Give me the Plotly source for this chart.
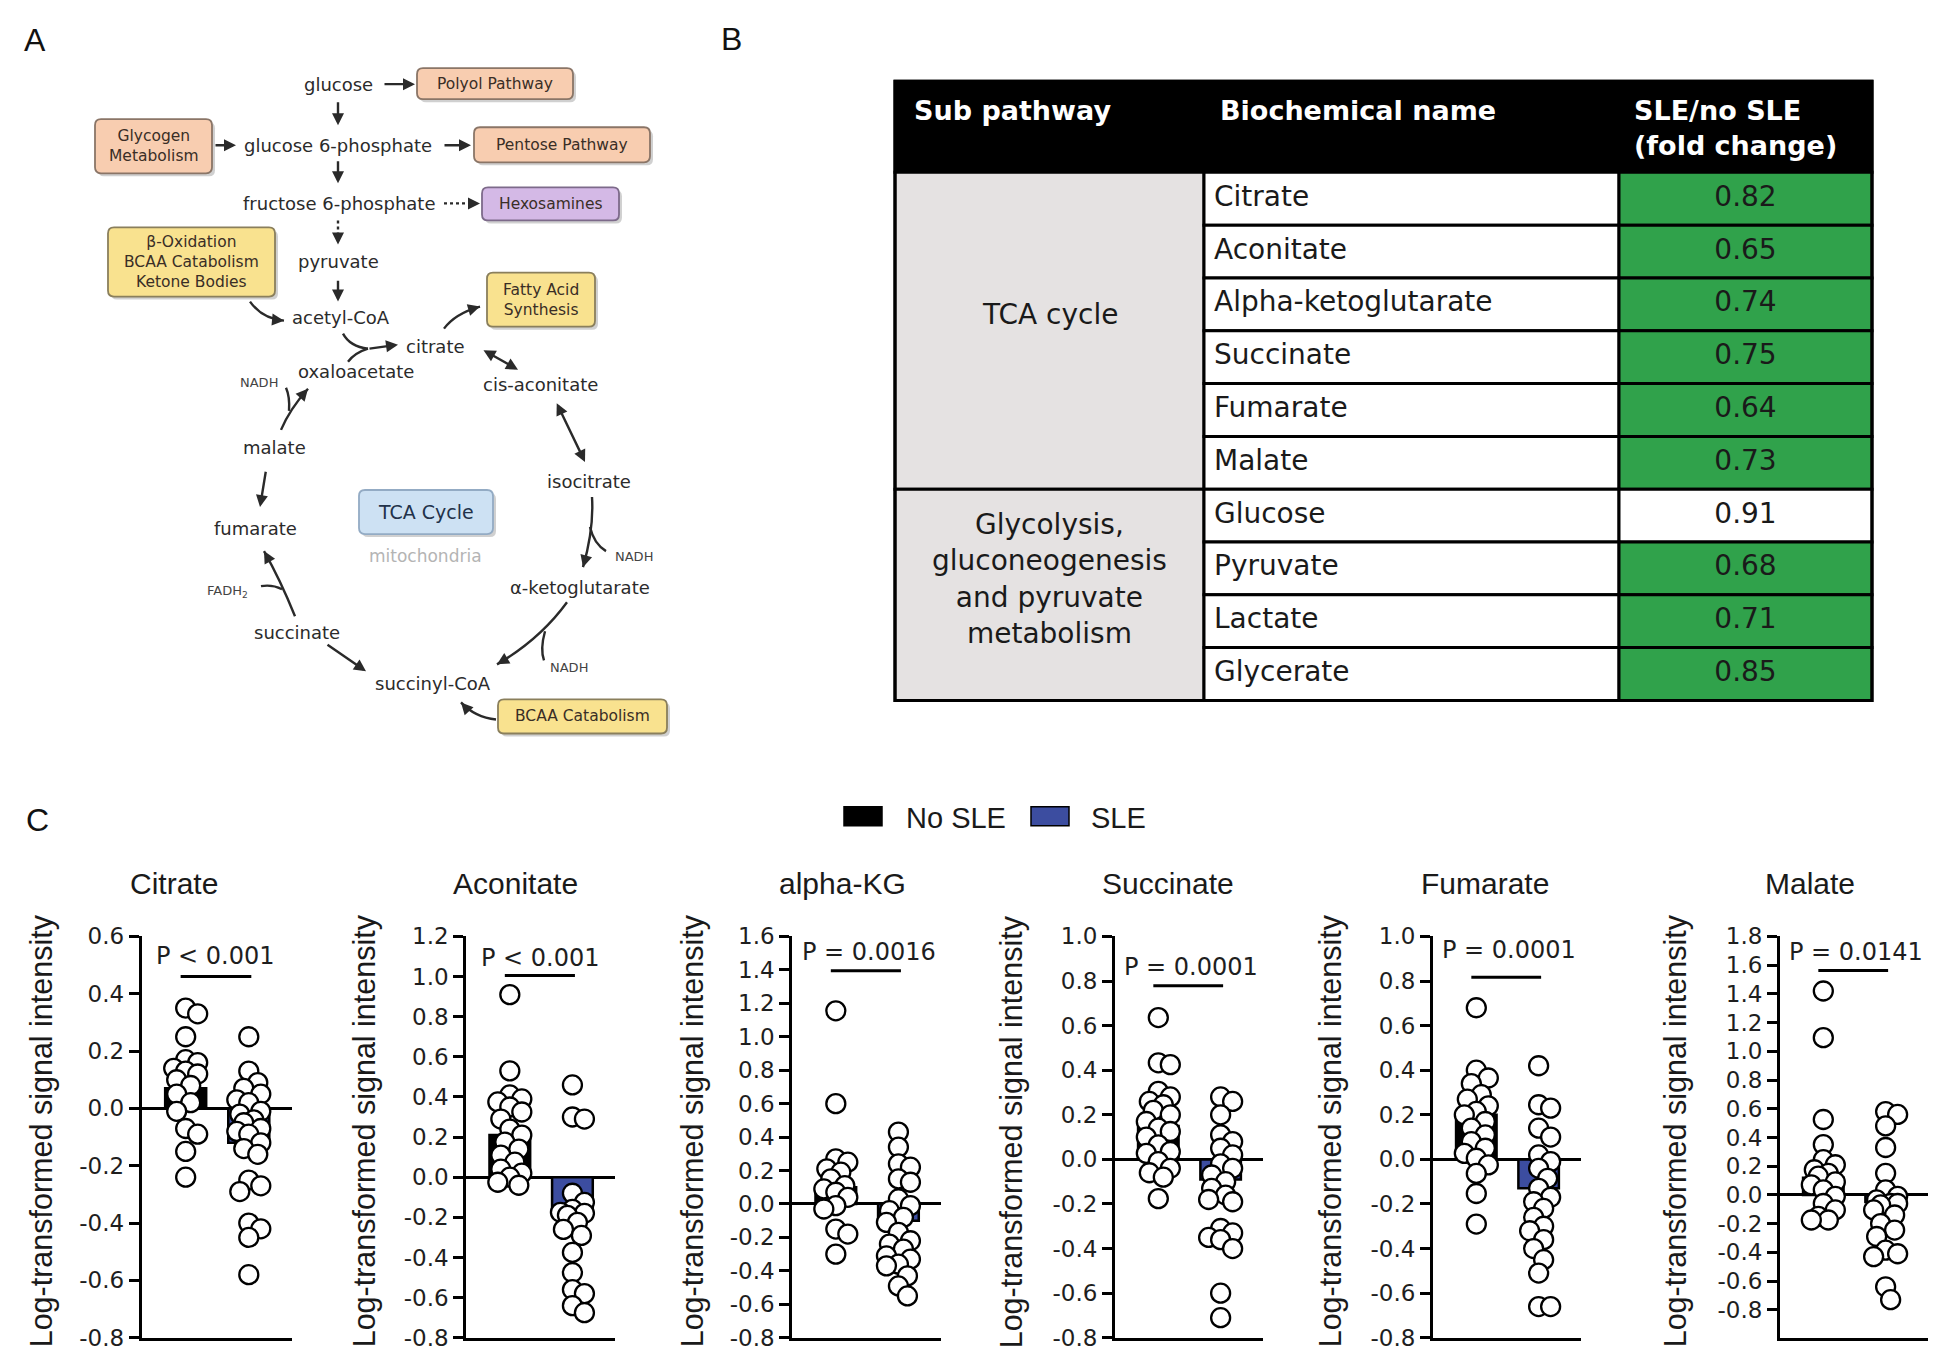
import plotly.graph_objects as go

W, H = 1950, 1371
ARIAL = "Liberation Sans, Arial, sans-serif"
DEJAVU = "DejaVu Sans, sans-serif"

# ====================== DATA ======================
# ---- Panel A: pathway diagram text ----
pathway_nodes = ["glucose", "glucose 6-phosphate", "fructose 6-phosphate", "pyruvate", "acetyl-CoA",
                 "citrate", "oxaloacetate", "cis-aconitate", "isocitrate", "α-ketoglutarate",
                 "succinyl-CoA", "succinate", "fumarate", "malate"]
pathway_boxes = ["Polyol Pathway", "Glycogen<br>Metabolism", "Pentose Pathway", "Hexosamines",
                 "β-Oxidation<br>BCAA Catabolism<br>Ketone Bodies", "Fatty Acid<br>Synthesis",
                 "BCAA Catabolism", "TCA Cycle"]
cofactors = ["NADH", "NADH", "NADH", "FADH<sub>2</sub>"]

# ---- Panel B: table ----
table_header = ["Sub pathway", "Biochemical name", "SLE/no SLE<br>(fold change)"]
sub_pathways = ["TCA cycle", "Glycolysis,<br>gluconeogenesis<br>and pyruvate<br>metabolism"]
sub_pathway_sizes = [6, 4]
biochemicals = ["Citrate", "Aconitate", "Alpha-ketoglutarate", "Succinate", "Fumarate", "Malate",
                "Glucose", "Pyruvate", "Lactate", "Glycerate"]
fold_change = [0.82, 0.65, 0.74, 0.75, 0.64, 0.73, 0.91, 0.68, 0.71, 0.85]
significant = [True, True, True, True, True, True, False, True, True, True]

# ---- Panel C: scatter/bar plots ----
groups = ["No SLE", "SLE"]
metabolites = ["Citrate", "Aconitate", "alpha-KG", "Succinate", "Fumarate", "Malate"]
p_labels = ["P < 0.001", "P < 0.001", "P = 0.0016", "P = 0.0001", "P = 0.0001", "P = 0.0141"]
mean_no_sle = [0.07, 0.21, 0.10, 0.15, 0.20, 0.12]
mean_sle = [-0.12, -0.19, -0.10, -0.09, -0.13, -0.05]

citrate_no_sle = [0.35, 0.33, 0.25, 0.17, 0.16, 0.14, 0.13, 0.12, 0.10, 0.08, 0.05, 0.02,
                  -0.01, -0.07, -0.09, -0.15, -0.24]
citrate_sle = [0.25, 0.13, 0.09, 0.07, 0.05, 0.03, 0.02, -0.01, -0.02, -0.04, -0.05, -0.07,
               -0.08, -0.09, -0.12, -0.14, -0.16, -0.25, -0.27, -0.29, -0.40, -0.42, -0.45, -0.58]
aconitate_no_sle = [0.91, 0.53, 0.41, 0.39, 0.375, 0.35, 0.325, 0.29, 0.24, 0.21, 0.175, 0.14,
                    0.11, 0.075, 0.04, 0.02, 0.0, -0.025, -0.04]
aconitate_sle = [0.46, 0.30, 0.29, -0.08, -0.125, -0.16, -0.175, -0.18, -0.19, -0.225, -0.26,
                 -0.29, -0.375, -0.475, -0.56, -0.58, -0.64, -0.675]
akg_no_sle = [1.155, 0.60, 0.27, 0.25, 0.21, 0.19, 0.15, 0.11, 0.09, 0.07, 0.04, -0.01, -0.03,
              -0.15, -0.18, -0.30]
akg_sle = [0.43, 0.34, 0.24, 0.22, 0.15, 0.13, 0.03, -0.01, -0.04, -0.08, -0.11, -0.17, -0.22,
           -0.24, -0.27, -0.31, -0.33, -0.36, -0.37, -0.43, -0.49, -0.55]
succinate_no_sle = [0.636, 0.433, 0.425, 0.305, 0.28, 0.26, 0.245, 0.22, 0.20, 0.17, 0.14, 0.125,
                    0.10, 0.065, 0.035, 0.027, -0.01, -0.04, -0.06, -0.08, -0.176]
succinate_sle = [0.28, 0.26, 0.20, 0.11, 0.08, 0.05, 0.02, -0.02, -0.04, -0.07, -0.10, -0.13,
                 -0.16, -0.18, -0.19, -0.31, -0.33, -0.35, -0.36, -0.40, -0.60, -0.71]
fumarate_no_sle = [0.68, 0.40, 0.365, 0.34, 0.29, 0.27, 0.24, 0.215, 0.20, 0.17, 0.14, 0.11,
                   0.08, 0.05, 0.027, 0.005, -0.025, -0.063, -0.153, -0.29]
fumarate_sle = [0.42, 0.245, 0.23, 0.14, 0.10, 0.02, -0.01, -0.04, -0.085, -0.13, -0.17, -0.19,
                -0.22, -0.26, -0.30, -0.32, -0.36, -0.40, -0.45, -0.51, -0.66, -0.66]
malate_no_sle = [1.42, 1.095, 0.525, 0.35, 0.245, 0.21, 0.175, 0.15, 0.13, 0.09, 0.07, 0.035,
                 -0.01, -0.06, -0.105, -0.15, -0.175, -0.175]
malate_sle = [0.58, 0.56, 0.48, 0.33, 0.15, 0.035, -0.01, -0.035, -0.06, -0.06, -0.07, -0.105,
              -0.14, -0.20, -0.245, -0.29, -0.385, -0.41, -0.43, -0.64, -0.73]

points_no_sle = [citrate_no_sle, aconitate_no_sle, akg_no_sle, succinate_no_sle,
                 fumarate_no_sle, malate_no_sle]
points_sle = [citrate_sle, aconitate_sle, akg_sle, succinate_sle, fumarate_sle, malate_sle]

y_tick_top = [0.6, 1.2, 1.6, 1.0, 1.0, 1.8]
y_tick_bottom = -0.8
y_axis_title = "Log-transformed signal intensity"

# ====================== STYLE / LAYOUT ======================
Y_OFF, Y_SCALE = 15.0, 0.979   # compensation for the vertical fit of the page photo


def PX(x):
    return x / W


def PY(y):
    return 1 - ((y - Y_OFF) / Y_SCALE) / H


annotations = []
shapes = []


def text(t, x, y, size, color="#2b2b2b", family=DEJAVU, xanchor="center", yanchor="middle", angle=0):
    annotations.append(dict(x=PX(x), y=PY(y), xref="paper", yref="paper", text=t, showarrow=False,
                            font=dict(size=size, color=color, family=family),
                            xanchor=xanchor, yanchor=yanchor, textangle=angle))


def arrow(x0, y0, x1, y1, both=False, width=2.4, color="#2a2a2a", head=True):
    annotations.append(dict(x=PX(x1), y=PY(y1), xref="paper", yref="paper",
                            ax=x0 - x1, ay=(y0 - y1) / Y_SCALE, axref="pixel", ayref="pixel", text="",
                            showarrow=True, arrowhead=2 if head else 0, startarrowhead=2,
                            arrowside="end+start" if both else "end",
                            arrowsize=1.0, arrowwidth=width, arrowcolor=color))


def pt(x, y):
    return f"{PX(x):.5f},{PY(y):.5f}"


def curve(x0, y0, cx, cy, x1, y1, head=True, width=2.4, color="#2a2a2a"):
    shapes.append(dict(type="path", xref="paper", yref="paper",
                       path=f"M {pt(x0, y0)} Q {pt(cx, cy)} {pt(x1, y1)}",
                       line=dict(color=color, width=width)))
    if head:
        dx, dy = x1 - cx, y1 - cy
        n = (dx * dx + dy * dy) ** 0.5 or 1
        arrow(x1 - 7 * dx / n, y1 - 7 * dy / n, x1, y1, width=width, color=color)


def rrect(x0, y0, x1, y1, r=6):
    return (f"M {pt(x0 + r, y0)} L {pt(x1 - r, y0)} Q {pt(x1, y0)} {pt(x1, y0 + r)} "
            f"L {pt(x1, y1 - r)} Q {pt(x1, y1)} {pt(x1 - r, y1)} L {pt(x0 + r, y1)} "
            f"Q {pt(x0, y1)} {pt(x0, y1 - r)} L {pt(x0, y0 + r)} Q {pt(x0, y0)} {pt(x0 + r, y0)} Z")


# ---------- Panel labels ----------
text("A", 35, 42, 32, "#111", ARIAL)
text("B", 731, 41, 32, "#111", ARIAL)
text("C", 37, 820, 32, "#111", ARIAL)

# ---------- Panel A ----------
node_pos = [(338, 86), (338, 147), (339, 205), (338, 263), (341, 319), (435, 348), (356, 373),
            (540, 386), (589, 483), (580, 588), (433, 684), (297, 633), (255, 529), (274, 449)]
for name, (x, y) in zip(pathway_nodes, node_pos):
    text(name, x, y, 18, "#2b2b2b")

peach, purple, yellow, blue = "#f8cdb0", "#d4b9e6", "#f9e28f", "#cde1f3"
box_geom = [(417, 70, 573, 101, peach, "#8a7567"), (95, 121, 212, 175, peach, "#8a7567"),
            (474, 129, 650, 164, peach, "#8a7567"), (482, 189, 619, 222, purple, "#7d6a8a"),
            (108, 229, 275, 298, yellow, "#8a7f5c"), (487, 274, 595, 328, yellow, "#8a7f5c"),
            (498, 700, 667, 734, yellow, "#8a7f5c"), (359, 491, 493, 535, blue, "#93abc4")]
for label, (x0, y0, x1, y1, fill, border) in zip(pathway_boxes, box_geom):
    shapes.append(dict(type="path", xref="paper", yref="paper", path=rrect(x0 + 3, y0 + 3, x1 + 3, y1 + 3),
                       fillcolor="rgba(120,120,120,0.35)", line=dict(width=0)))
    shapes.append(dict(type="path", xref="paper", yref="paper", path=rrect(x0, y0, x1, y1),
                       fillcolor=fill, line=dict(color=border, width=1.8)))
    if label == "TCA Cycle":
        text(label, (x0 + x1) / 2, (y0 + y1) / 2, 19, "#22324a")
    else:
        text(label, (x0 + x1) / 2, (y0 + y1) / 2, 15.5, "#3a2e26")

text("mitochondria", 425, 557, 17, "#b4b4b4")
cof_pos = [(259, 384), (634, 557), (569, 668), (227, 592)]
for c, (x, y) in zip(cofactors, cof_pos):
    text(c, x, y, 13, "#444")

# straight arrows
arrow(383, 86, 415, 86)
arrow(338, 103, 338, 127)
arrow(214, 147, 236, 147)
arrow(443, 147, 471, 147)
arrow(338, 162, 338, 185)
shapes.append(dict(type="line", xref="paper", yref="paper", x0=PX(444), y0=PY(205), x1=PX(474), y1=PY(205),
                   line=dict(color="#2a2a2a", width=2.4, dash="dot")))
arrow(472, 205, 480, 205)
shapes.append(dict(type="line", xref="paper", yref="paper", x0=PX(338), y0=PY(222), x1=PX(338), y1=PY(240),
                   line=dict(color="#2a2a2a", width=2.4, dash="dot")))
arrow(338, 238, 338, 246)
arrow(338, 281, 338, 303)
arrow(482, 351, 518, 371, both=True)
arrow(556, 404, 585, 463, both=True)
arrow(326, 645, 366, 672)
arrow(266, 472, 260, 508)
# curved arrows
curve(250, 303, 262, 320, 284, 322)
curve(343, 335, 350, 348, 368, 350, head=False)
curve(348, 363, 355, 354, 368, 350, head=False)
arrow(368, 350, 398, 346)
curve(444, 330, 455, 315, 480, 308)
curve(592, 498, 594, 530, 583, 568)
curve(590, 528, 594, 545, 606, 552, head=False)
curve(567, 603, 540, 640, 497, 665)
curve(545, 632, 540, 650, 544, 661, head=False)
curve(496, 720, 475, 718, 461, 703)
curve(295, 617, 280, 580, 264, 552)
curve(282, 590, 272, 585, 261, 587, head=False)
curve(281, 431, 290, 410, 308, 390)
curve(289, 412, 290, 398, 286, 389, head=False)

# ---------- Panel B: table (own axes x7/y7) ----------
T_X0, T_X1, T_Y0, T_Y1 = 895, 1872, 83, 701
col_w = [309, 415, 253]
hdr_px = 91
row_px = (T_Y1 - T_Y0 - hdr_px) / len(biochemicals)
hdr = hdr_px / row_px
c0, c1, c2, c3 = 0, col_w[0], col_w[0] + col_w[1], sum(col_w)
pad_x, pad_y = 3, 3 / row_px
n_rows = len(biochemicals)

tshape = dict(xref="x7", yref="y7", type="rect", layer="below")
green, grey = "#30a24b", "#e5e2e2"
shapes.append(dict(tshape, x0=c0, x1=c3, y0=-hdr, y1=0, fillcolor="black", line=dict(color="black", width=3)))
start = 0
for g, n in zip(sub_pathways, sub_pathway_sizes):
    shapes.append(dict(tshape, x0=c0, x1=c1, y0=start, y1=start + n, fillcolor=grey,
                       line=dict(color="black", width=3)))
    annotations.append(dict(xref="x7", yref="y7", x=(c0 + c1) / 2, y=start + n / 2 - 0.3, text=g,
                            showarrow=False, font=dict(family=DEJAVU, size=28, color="#1a1a1a"),
                            align="center"))
    start += n
for i in range(n_rows):
    shapes.append(dict(tshape, x0=c1, x1=c2, y0=i, y1=i + 1, fillcolor="white",
                       line=dict(color="black", width=3)))
    shapes.append(dict(tshape, x0=c2, x1=c3, y0=i, y1=i + 1,
                       fillcolor=green if significant[i] else "white",
                       line=dict(color="black", width=3)))
shapes.append(dict(tshape, x0=c0, x1=c3, y0=-hdr, y1=n_rows, line=dict(color="black", width=3)))

hdr_x = [17, c1 + 14, 737]
hdr_y = [-hdr + 29 / row_px, -hdr + 29 / row_px, -hdr + 47 / row_px]
for t, x, y in zip(table_header, hdr_x, hdr_y):
    annotations.append(dict(xref="x7", yref="y7", x=x, y=y, text=f"<b>{t}</b>", showarrow=False,
                            xanchor="left", align="left",
                            font=dict(family=DEJAVU, size=27, color="white")))

traces = []
traces.append(go.Scatter(x=[c1 + 10] * n_rows, y=[i + 0.5 for i in range(n_rows)], mode="text",
                         text=biochemicals, textposition="middle right",
                         textfont=dict(family=DEJAVU, size=28, color="#1a1a1a"),
                         xaxis="x7", yaxis="y7", showlegend=False, hoverinfo="skip", cliponaxis=False))
traces.append(go.Scatter(x=[(c2 + c3) / 2] * n_rows, y=[i + 0.5 for i in range(n_rows)], mode="text",
                         text=[f"{v:.2f}" for v in fold_change], textposition="middle center",
                         textfont=dict(family=DEJAVU, size=28, color="#1a1a1a"),
                         xaxis="x7", yaxis="y7", showlegend=False, hoverinfo="skip", cliponaxis=False))

# ---------- Panel C ----------
x_dom_px = [(141.5, 291.7), (466, 615), (792, 941), (1114.7, 1263), (1432.7, 1581), (1779.7, 1928)]
y_dom_px = (936.5, 1337)
y_bottoms = [-0.8, -0.8, -0.8, -0.8, -0.8, -0.995]
x_range = [-0.7, 1.68]
title_x = [174, 515, 842, 1168, 1485, 1810]
ylabel_x = [41, 364, 692, 1011, 1330, 1675]
pline_y = [0.46, 1.005, 1.394, 0.779, 0.817, 1.562]
ptext_y = [0.53, 1.09, 1.504, 0.862, 0.937, 1.69]
ptext_x = [-0.5, -0.5, -0.58, -0.58, -0.58, -0.58]
sle_blue = "#3c4da0"
diam = 19


def swarm(vals, xs, ys, cands=(0, 5, -5, 9, -9, 12, -12)):
    placed, offs = [], []
    for v in vals:
        yp = v * ys
        best, bestd = 0, -1
        for c in cands:
            d = min([((c - a) ** 2 + (yp - b) ** 2) ** 0.5 for a, b in placed], default=1e9)
            if d >= 0.7 * diam:
                best = c
                break
            if d > bestd:
                bestd, best = d, c
        placed.append((best, yp))
        offs.append(best / xs)
    return offs


layout_axes = {}
for k in range(6):
    i = k + 1
    xn = "x" if i == 1 else f"x{i}"
    yn = "y" if i == 1 else f"y{i}"
    xa, xb = x_dom_px[k]
    ybot, ytop = y_bottoms[k], y_tick_top[k]
    xs = (xb - xa) / (x_range[1] - x_range[0])
    ys = (y_dom_px[1] - y_dom_px[0]) / (ytop - ybot)
    for pos, (means, pts, color) in enumerate([(mean_no_sle, points_no_sle, "black"),
                                               (mean_sle, points_sle, sle_blue)]):
        traces.append(go.Bar(x=[pos], y=[means[k]], width=0.65, xaxis=xn, yaxis=yn,
                             marker=dict(color=color, line=dict(color="black", width=2.5)),
                             showlegend=False, name=groups[pos]))
        vals = pts[k]
        offs = swarm(vals, xs, ys)
        traces.append(go.Scatter(x=[pos + o for o in offs], y=vals, mode="markers", xaxis=xn, yaxis=yn,
                                 marker=dict(symbol="circle", size=diam, color="white",
                                             line=dict(color="black", width=2.3)),
                                 showlegend=False, cliponaxis=False, name=groups[pos]))
    nt = int(round((ytop - y_tick_bottom) / 0.2))
    tv = [round(y_tick_bottom + 0.2 * j, 1) for j in range(nt + 1)]
    layout_axes["xaxis" if i == 1 else f"xaxis{i}"] = dict(
        domain=[PX(xa), PX(xb)], range=x_range, anchor=yn, showline=True, linecolor="black",
        linewidth=2.5, ticks="", showticklabels=False, showgrid=False, zeroline=False, fixedrange=True)
    layout_axes["yaxis" if i == 1 else f"yaxis{i}"] = dict(
        domain=[PY(y_dom_px[1]), PY(y_dom_px[0])], range=[ybot, ytop], anchor=xn, showline=True,
        linecolor="black", linewidth=2.5, ticks="outside", ticklen=10, tickwidth=2.5, tickcolor="black",
        tickvals=tv, ticktext=[f"{v:.1f}" for v in tv], tickfont=dict(family=DEJAVU, size=23, color="#1e1e1e"),
        showgrid=False, zeroline=True, zerolinecolor="black", zerolinewidth=2.5, fixedrange=True)
    text(metabolites[k], title_x[k], 884, 30, "#1a1a1a", ARIAL)
    text(y_axis_title, ylabel_x[k], 1131, 30.5, "#1a1a1a", ARIAL, angle=-90)
    shapes.append(dict(type="line", xref=xn, yref=yn, x0=-0.08, x1=1.04, y0=pline_y[k], y1=pline_y[k],
                       line=dict(color="black", width=3)))
    annotations.append(dict(xref=xn, yref=yn, x=ptext_x[k], y=ptext_y[k], text=p_labels[k], showarrow=False,
                            xanchor="left", font=dict(family=DEJAVU, size=24, color="#1e1e1e")))

# legend
shapes.append(dict(type="rect", xref="paper", yref="paper", x0=PX(844), x1=PX(882), y0=PY(826), y1=PY(807),
                   fillcolor="black", line=dict(color="black", width=1.5)))
shapes.append(dict(type="rect", xref="paper", yref="paper", x0=PX(1031), x1=PX(1069), y0=PY(826), y1=PY(807),
                   fillcolor=sle_blue, line=dict(color="black", width=1.5)))
text(groups[0], 904, 818, 29, "#1a1a1a", ARIAL, xanchor="left")
text(groups[1], 1089, 818, 29, "#1a1a1a", ARIAL, xanchor="left")

layout_axes["xaxis7"] = dict(domain=[PX(T_X0 - pad_x), PX(T_X1 + pad_x)], range=[c0 - pad_x, c3 + pad_x],
                             visible=False, fixedrange=True, anchor="y7")
layout_axes["yaxis7"] = dict(domain=[PY(T_Y1 + 3), PY(T_Y0 - 3)], range=[n_rows + pad_y, -hdr - pad_y],
                             visible=False, fixedrange=True, anchor="x7")

fig = go.Figure(data=traces)
fig.update_layout(width=W, height=H, margin=dict(l=0, r=0, t=0, b=0), paper_bgcolor="white",
                  plot_bgcolor="white", showlegend=False, barmode="overlay",
                  annotations=annotations, shapes=shapes, **layout_axes)
fig.write_html("out.html", config={"displayModeBar": False},
               post_script="document.body.style.margin='0px';"
                           "document.documentElement.style.overflow='hidden';"
                           "document.body.style.overflow='hidden';")
